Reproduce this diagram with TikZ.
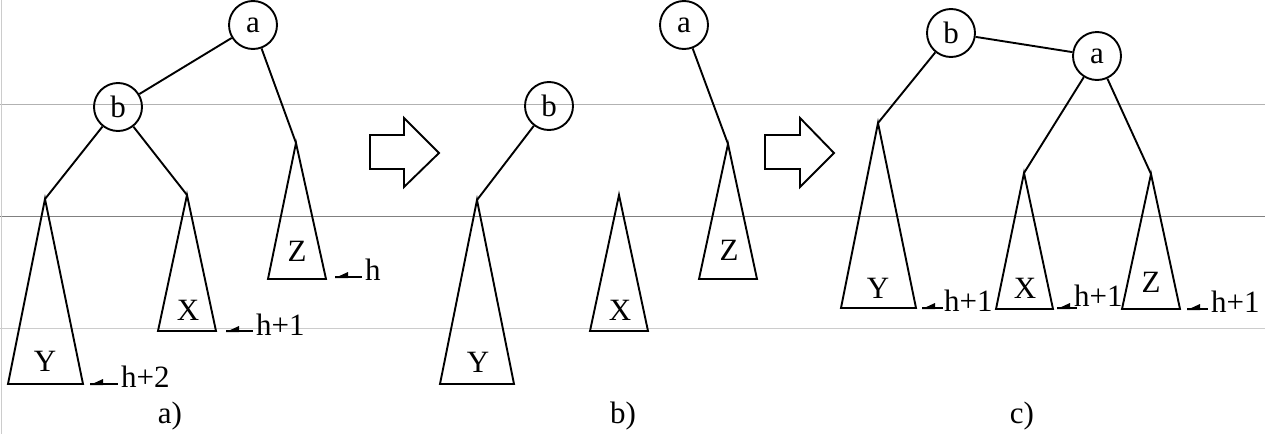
\documentclass[tikz,border=0pt]{standalone}
\usepackage{fontspec}
\setmainfont{Liberation Serif}
\begin{document}
\begin{tikzpicture}[x=1pt,y=-1pt,
  vtx/.style={circle,draw,line width=1.9pt,minimum size=48pt,inner sep=0pt,font=\fontsize{31}{33}\selectfont},
  tree/.style={draw,line width=1.9pt,line join=miter},
  edge/.style={line width=1.9pt},
  lbl/.style={inner sep=0pt,font=\fontsize{31}{33}\selectfont},
  hollow/.style={draw,line width=1.9pt,fill=white},
  grid1/.style={line width=1pt,draw=black!30},
  grid2/.style={line width=1pt,draw=black!50}]
\useasboundingbox (0,0) rectangle (1265,434);
\fill[white] (0,0) rectangle (1265,434);
% guide lines
\draw[grid1] (0,104) -- (1265,104);
\draw[grid2] (0,216.5) -- (1265,216.5);
\draw[grid1,draw=black!20] (0,328) -- (1265,328);
\draw[grid1,draw=black!20] (1,0) -- (1,434);

% ---------- panel a ----------
\node[vtx] (aa) at (253,25) {a};
\node[vtx] (ab) at (118,107) {b};
\coordinate (aY) at (45,199);
\coordinate (aX) at (187,195);
\coordinate (aZ) at (296,143);
\draw[edge] (aa) -- (ab);
\draw[edge] (ab) -- (aY);
\draw[edge] (ab) -- (aX);
\draw[edge] (aa) -- (aZ);
\draw[tree] (aY) -- (83,384) -- (8,384) -- cycle;
\draw[tree] (aX) -- (216,331) -- (158,331) -- cycle;
\draw[tree] (aZ) -- (326,279) -- (268,279) -- cycle;
\node[lbl] (aYl) at (45,361) {Y};
\node[lbl] (aXl) at (188,310) {X};
\node[lbl] (aZl) at (297,251) {Z};

% ---------- panel b ----------
\node[vtx] (ba) at (684,25) {a};
\node[vtx] (bb) at (549,106) {b};
\coordinate (bY) at (477,200);
\coordinate (bX) at (619,195);
\coordinate (bZ) at (728,144);
\draw[edge] (bb) -- (bY);
\draw[edge] (ba) -- (bZ);
\draw[tree] (bY) -- (514,384) -- (440,384) -- cycle;
\draw[tree] (bX) -- (648,331) -- (590,331) -- cycle;
\draw[tree] (bZ) -- (757,279) -- (699,279) -- cycle;
\node[lbl] (bYl) at (478,362) {Y};
\node[lbl] (bXl) at (620,310) {X};
\node[lbl] (bZl) at (729,250) {Z};

% ---------- panel c ----------
\node[vtx] (cb) at (951,33) {b};
\node[vtx] (ca) at (1097,56) {a};
\coordinate (cY) at (878,123);
\coordinate (cX) at (1024,173);
\coordinate (cZ) at (1151,174);
\draw[edge] (cb) -- (ca);
\draw[edge] (cb) -- (cY);
\draw[edge] (ca) -- (cX);
\draw[edge] (ca) -- (cZ);
\draw[tree] (cY) -- (916,308) -- (841,308) -- cycle;
\draw[tree] (cX) -- (1053,309) -- (996,309) -- cycle;
\draw[tree] (cZ) -- (1180,309) -- (1122,309) -- cycle;
\node[lbl] (cYl) at (878,288) {Y};
\node[lbl] (cXl) at (1025,288) {X};
\node[lbl] (cZl) at (1151,282) {Z};

% ---------- hollow arrows ----------
\draw[hollow] (370,135) -- (404,135) -- (404,118) -- (439,153) -- (404,187) -- (404,169) -- (370,169) -- cycle;
\draw[hollow] (765,135) -- (800,135) -- (800,118) -- (834,153) -- (800,187) -- (800,169) -- (765,169) -- cycle;

% ---------- height marks ----------
\newcommand{\hmark}[4]{%
  \coordinate (#1) at (#2,#3);
  \draw[line width=1.9pt] (#1) -- ++(#4,0);
  \fill (#1) ++(0,1) -- ++(13,-6) -- ++(0,6) -- cycle;}
\hmark{mZa}{335}{277}{27}
\node[lbl,anchor=west] (hZa) at (365,270) {h};
\hmark{mXa}{226}{331}{27}
\node[lbl,anchor=west] (hXa) at (256,325) {h+1};
\hmark{mYa}{90}{384}{28}
\node[lbl,anchor=west] (hYa) at (121,377) {h+2};
\hmark{mYc}{922}{308}{21}
\node[lbl,anchor=west] (hYc) at (944,301) {h+1};
\hmark{mXc}{1057}{308}{20}
\node[lbl,anchor=west] (hXc) at (1074,296) {h+1};
\hmark{mZc}{1187}{309}{21}
\node[lbl,anchor=west] (hZc) at (1211,302) {h+1};

% ---------- captions ----------
\node[lbl] (capa) at (170,416) {a)};
\node[lbl] (capb) at (623,416) {b)};
\node[lbl] (capc) at (1022,416) {c)};
\end{tikzpicture}
\end{document}
